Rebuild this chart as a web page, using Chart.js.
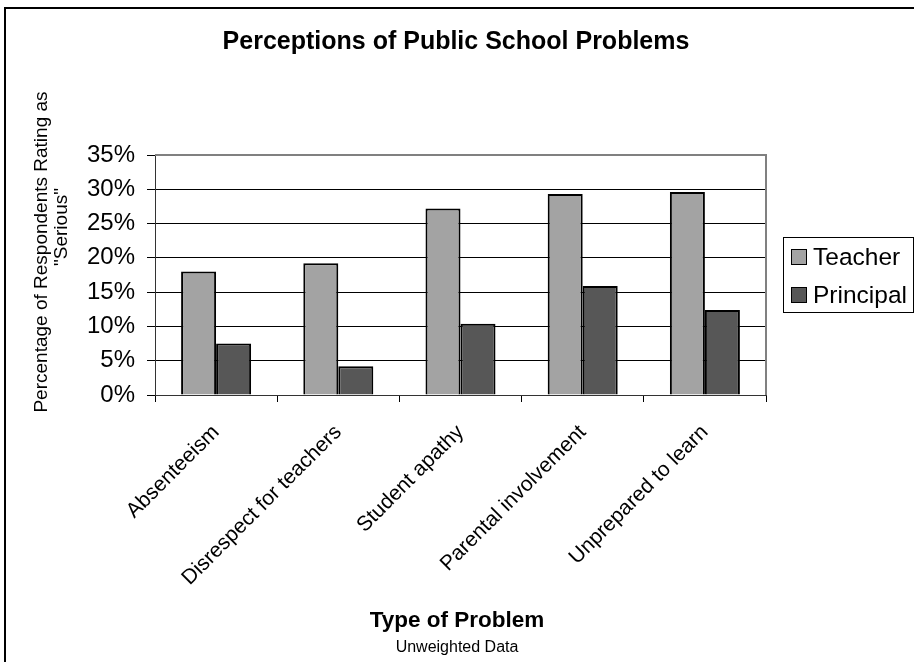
<!DOCTYPE html>
<html><head><meta charset="utf-8">
<script src="https://cdn.jsdelivr.net/npm/chart.js@4/dist/chart.umd.min.js"></script>
<style>html,body{margin:0;padding:0;background:#fff;}canvas{display:block}</style>
</head><body>
<canvas id="c" width="914" height="662"></canvas>
<script>
const categories = ['Absenteeism', 'Disrespect for teachers', 'Student apathy', 'Parental involvement', 'Unprepared to learn'];
const teacherValues = [18.0, 19.2, 27.2, 29.3, 29.6];
const principalValues = [7.5, 4.2, 10.4, 15.9, 12.4];
const seriesNames = ['Teacher', 'Principal'];
const yMin = 0, yMax = 35, yStep = 5;
const chartTitle = 'Perceptions of Public School Problems';
const yTitleLines = ['Percentage of Respondents Rating as', '"Serious"'];
const xTitle = 'Type of Problem';
const subTitle = 'Unweighted Data';

const FONT = '"Liberation Sans", Arial, sans-serif';

const decor = {
  id: 'decor',
  beforeDraw(chart) {
    const ctx = chart.ctx;
    ctx.save();
    ctx.fillStyle = '#fff';
    ctx.fillRect(0, 0, chart.width, chart.height);
    ctx.strokeStyle = '#000';
    ctx.lineWidth = 2;
    ctx.strokeRect(5, 8, 1000, 1000);
    ctx.restore();
  },
  beforeDatasetsDraw(chart) {
    const ctx = chart.ctx, a = chart.chartArea;
    ctx.save();
    ctx.strokeStyle = '#808080';
    ctx.lineWidth = 2;
    ctx.beginPath();
    ctx.moveTo(a.left, a.top);
    ctx.lineTo(a.right, a.top);
    ctx.lineTo(a.right, a.bottom);
    ctx.stroke();
    ctx.restore();
  },
  afterDraw(chart) {
    const ctx = chart.ctx;
    ctx.save();
    ctx.fillStyle = '#000';
    ctx.textAlign = 'center';
    ctx.textBaseline = 'middle';
    ctx.font = 'bold 25px ' + FONT;
    ctx.fillText(chartTitle, 456, 42);
    ctx.font = 'bold 22.5px ' + FONT;
    ctx.fillText(xTitle, 457, 621);
    ctx.font = '16px ' + FONT;
    ctx.fillText(subTitle, 457, 648);
    // y title
    ctx.font = '19px ' + FONT;
    ctx.save();
    ctx.translate(42, 252);
    ctx.rotate(-Math.PI / 2);
    ctx.fillText(yTitleLines[0], 0, 0);
    ctx.restore();
    ctx.save();
    ctx.translate(62, 227);
    ctx.rotate(-Math.PI / 2);
    ctx.fillText(yTitleLines[1], 0, 0);
    ctx.restore();
    // legend
    ctx.strokeStyle = '#000';
    ctx.lineWidth = 1;
    ctx.strokeRect(783.5, 237.5, 130, 75);
    ctx.textAlign = 'left';
    ctx.font = '24.5px ' + FONT;
    chart.data.datasets.forEach((ds, i) => {
      const cy = 257 + i * 38;
      ctx.fillStyle = ds.backgroundColor;
      ctx.fillRect(791, cy - 8, 16, 16);
      ctx.strokeRect(791.5, cy - 7.5, 15, 15);
      ctx.fillStyle = '#000';
      ctx.fillText(ds.label, 813, cy + 1);
    });
    ctx.restore();
  }
};

new Chart(document.getElementById('c'), {
  type: 'bar',
  data: {
    labels: categories,
    datasets: [
      { label: seriesNames[0], data: teacherValues, backgroundColor: '#a3a3a3', borderColor: '#000', borderWidth: 2, borderSkipped: 'start' },
      { label: seriesNames[1], data: principalValues, backgroundColor: '#575757', borderColor: '#000', borderWidth: 2, borderSkipped: 'start' }
    ]
  },
  options: {
    responsive: false,
    devicePixelRatio: 1,
    animation: false,
    layout: { padding: { left: 0, top: 155, right: 148, bottom: 0 } },
    datasets: { bar: { categoryPercentage: 0.573, barPercentage: 1.0 } },
    plugins: { legend: { display: false }, title: { display: false }, tooltip: { enabled: false } },
    scales: {
      x: {
        afterFit(s) { s.height = 267; },
        grid: { display: true, offset: true, drawOnChartArea: false, drawTicks: true, tickLength: 7, color: '#000', lineWidth: 1 },
        border: { display: true, color: '#333', width: 1 },
        ticks: { autoSkip: false, maxRotation: 45, minRotation: 45, padding: 18, color: '#000', font: { family: FONT, size: 21 } }
      },
      y: {
        min: yMin, max: yMax,
        afterFit(s) { s.width = 155; },
        grid: { color: '#000', lineWidth: 1, tickLength: 8 },
        border: { display: true, color: '#333', width: 1 },
        ticks: { stepSize: yStep, padding: 12, color: '#000', font: { family: FONT, size: 24 }, callback: v => v + '%' }
      }
    }
  },
  plugins: [decor]
});
</script>
</body></html>
